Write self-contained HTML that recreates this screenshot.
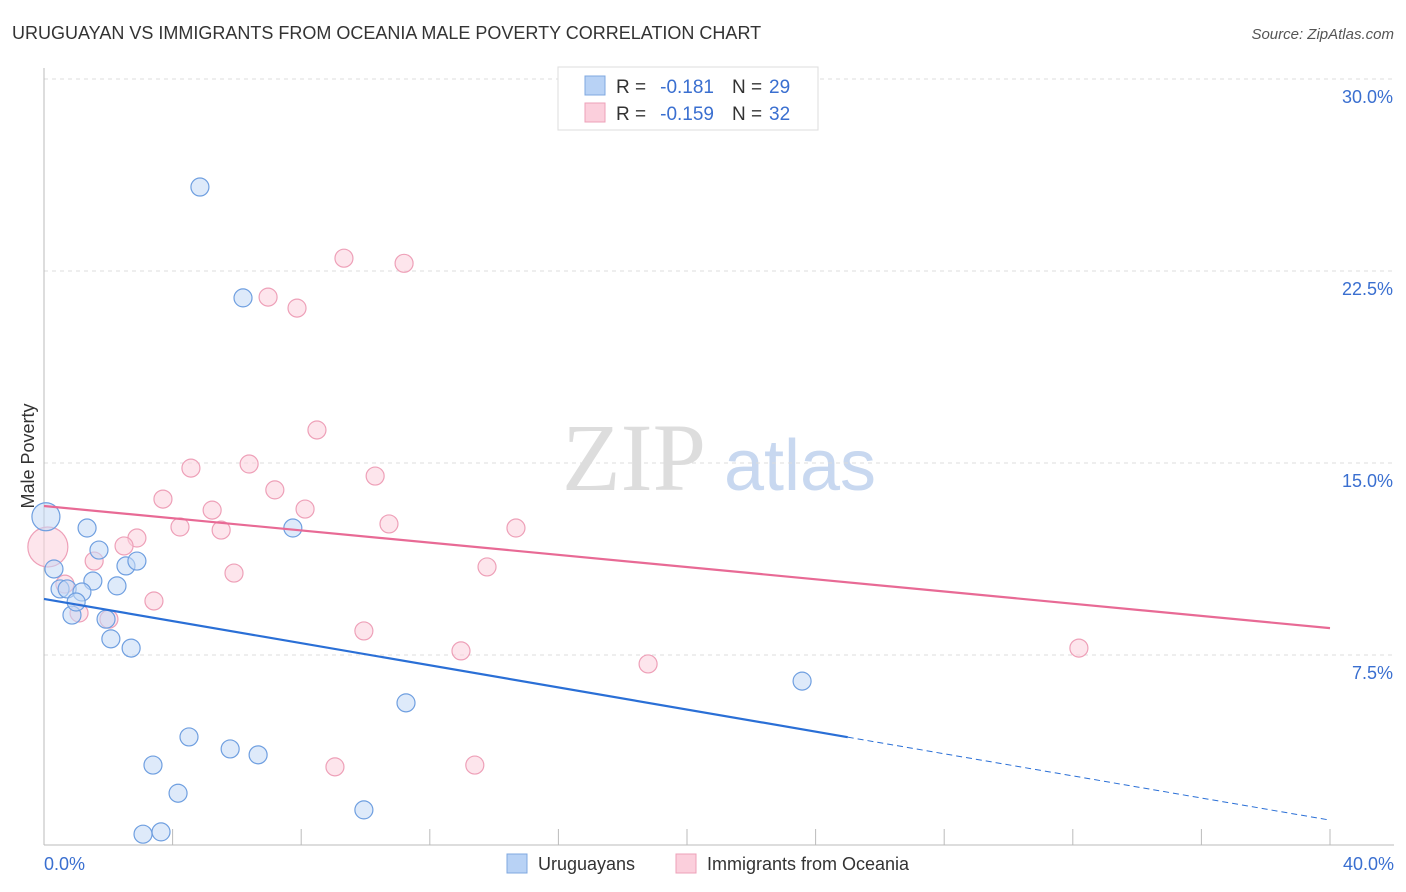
<!DOCTYPE html>
<html><head><meta charset="utf-8"><style>
body{margin:0;background:#fff;font-family:"Liberation Sans",sans-serif;}
</style></head><body>
<svg width="1406" height="892" style="display:block">
<text x="12" y="39" font-size="18" fill="#333">URUGUAYAN VS IMMIGRANTS FROM OCEANIA MALE POVERTY CORRELATION CHART</text>
<text x="1394" y="39" font-size="15" fill="#555" font-style="italic" text-anchor="end">Source: ZipAtlas.com</text>
<text x="634" y="490" font-size="96" fill="#ddd" font-family="Liberation Serif,serif" text-anchor="middle">ZIP</text>
<text x="800" y="490" font-size="72" fill="#c8d8f0" text-anchor="middle">atlas</text>
<g id="grid"></g>
<g id="axes"></g>
<g id="marks"></g>
<text transform="translate(34,456) rotate(-90)" font-size="18" fill="#333" text-anchor="middle">Male Poverty</text>
<text x="44" y="870" font-size="18" fill="#3a6fd0">0.0%</text>
<text x="1394" y="870" font-size="18" fill="#3a6fd0" text-anchor="end">40.0%</text>
<g>
<rect x="558" y="67" width="260" height="63" fill="#fff" stroke="#ddd"/>
<rect x="585" y="76" width="20" height="19" fill="#b8d2f5" stroke="#7fa8e0"/>
<rect x="585" y="103" width="20" height="19" fill="#fbcfdc" stroke="#eea0b8"/>
<text x="616" y="93" font-size="19" fill="#333">R =</text>
<text x="714" y="93" font-size="19" fill="#3a6fd0" text-anchor="end">-0.181</text>
<text x="732" y="93" font-size="19" fill="#333">N =</text>
<text x="769" y="93" font-size="19" fill="#3a6fd0">29</text>
<text x="616" y="120" font-size="19" fill="#333">R =</text>
<text x="714" y="120" font-size="19" fill="#3a6fd0" text-anchor="end">-0.159</text>
<text x="732" y="120" font-size="19" fill="#333">N =</text>
<text x="769" y="120" font-size="19" fill="#3a6fd0">32</text>
</g>
<g>
<rect x="507" y="854" width="20" height="19" fill="#b8d2f5" stroke="#7fa8e0"/>
<text x="538" y="870" font-size="18" fill="#333">Uruguayans</text>
<rect x="676" y="854" width="20" height="19" fill="#fbcfdc" stroke="#eea0b8"/>
<text x="707" y="870" font-size="18" fill="#333">Immigrants from Oceania</text>
</g>
</svg>
<script>
const yTicks=[7.5,15,22.5,30];
const yTickLabels=["7.5%","15.0%","22.5%","30.0%"];
const xTicks=[0,4,8,12,16,20,24,28,32,36,40];
const blueX=[0.06,0.31,1.34,1.71,0.5,0.72,1.52,1.18,0.87,1.0,1.93,2.08,2.27,2.55,2.89,2.71,4.85,6.19,7.74,4.51,3.39,4.17,5.79,6.66,3.08,3.64,9.95,11.26,23.58];
const blueY=[12.9,10.86,12.46,11.6,10.08,10.08,10.39,9.96,9.06,9.57,8.9,8.13,10.2,10.98,11.17,7.77,25.78,21.45,12.46,4.3,3.2,2.1,3.83,3.6,0.5,0.59,1.45,5.63,6.48];
const blueR=[14,9,9,9,9,9,9,9,9,9,9,9,9,9,9,9,9,9,9,9,9,9,9,9,9,9,9,9,9];
const pinkX=[0.12,9.33,11.2,6.97,7.87,8.49,4.57,6.38,3.7,7.18,5.23,8.12,4.23,5.51,10.3,10.73,14.68,2.89,2.49,1.56,0.65,5.91,13.78,3.42,1.09,2.02,9.95,12.97,18.79,32.19,9.05,13.4];
const pinkY=[11.72,23.0,22.8,21.48,21.05,16.29,14.8,14.96,13.59,13.95,13.16,13.2,12.5,12.38,14.49,12.62,12.46,12.07,11.76,11.17,10.27,10.7,10.94,9.61,9.14,8.9,8.44,7.66,7.15,7.77,3.13,3.2];
const pinkR=[20,9,9,9,9,9,9,9,9,9,9,9,9,9,9,9,9,9,9,9,9,9,9,9,9,9,9,9,9,9,9,9];
const blueTrend=[9.69,1.05];
const blueSolidEnd=25;
const pinkTrend=[13.32,8.55];
const NS="http://www.w3.org/2000/svg";
const sx=v=>44+v/40*1286, sy=v=>847-v/30*768;
function mk(p,t,a){const e=document.createElementNS(NS,t);for(const k in a)e.setAttribute(k,a[k]);p.appendChild(e);return e;}
const grid=document.getElementById('grid'),axes=document.getElementById('axes'),marks=document.getElementById('marks');
yTicks.forEach((v,i)=>{
 const l=mk(grid,'line',{x1:44,x2:1394,y1:sy(v),y2:sy(v),stroke:'#ddd','stroke-dasharray':'4,4'});
 
 
 const t=mk(grid,'text',{x:1393,y:sy(v)+24,'font-size':18,fill:'#3a6fd0','text-anchor':'end'});t.textContent=yTickLabels[i];
 
 
});
const ya=mk(axes,'line',{x1:44,x2:44,y1:68,y2:845,stroke:'#bbb'});


const xa=mk(axes,'line',{x1:44,x2:1394,y1:845,y2:845,stroke:'#bbb'});


xTicks.forEach(v=>{const t=mk(axes,'line',{x1:sx(v),x2:sx(v),y1:829,y2:845,stroke:'#bbb'});
 
 });
function pts(X,Y,R,fill,stroke,name){X.forEach((x,i)=>{const c=mk(marks,'circle',{cx:sx(x),cy:sy(Y[i]),r:R[i],fill:fill,'fill-opacity':0.55,stroke:stroke,'stroke-width':1.2});
 
 });}
pts(pinkX,pinkY,pinkR,'#fbcfdc','#eea0b8','pink-point');
pts(blueX,blueY,blueR,'#c2d8f5','#6f9fe0','blue-point');
const by=x=>blueTrend[0]+(blueTrend[1]-blueTrend[0])*x/40;
const b1=mk(marks,'line',{x1:sx(0),y1:sy(by(0)),x2:sx(blueSolidEnd),y2:sy(by(blueSolidEnd)),stroke:'#2a6fd6','stroke-width':2.2});


const b2=mk(marks,'line',{x1:sx(blueSolidEnd),y1:sy(by(blueSolidEnd)),x2:sx(40),y2:sy(by(40)),stroke:'#2a6fd6','stroke-width':1,'stroke-dasharray':'6,4'});


const p1=mk(marks,'line',{x1:sx(0),y1:sy(pinkTrend[0]),x2:sx(40),y2:sy(pinkTrend[1]),stroke:'#e86a95','stroke-width':2.2});


</script>
</body></html>
